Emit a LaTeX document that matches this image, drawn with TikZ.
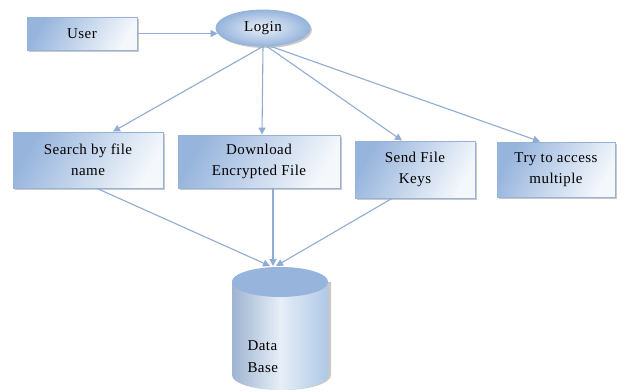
\documentclass[tikz,border=0pt]{standalone}
\usepackage{fontspec}
\setmainfont[LetterSpace=3]{Liberation Serif}
\usetikzlibrary{shadows,arrows.meta,calc,shapes.geometric}
\definecolor{bord}{RGB}{150,178,214}
\definecolor{boxblue}{RGB}{150,180,220}
\definecolor{linec}{RGB}{145,172,210}
\definecolor{dbtop}{RGB}{150,180,220}
\definecolor{dbbody}{RGB}{175,200,230}
\tikzset{
  box/.style={draw=bord, line width=0.9pt, rectangle, align=center,
    left color=boxblue, right color=white!90!boxblue, shading angle=60,
    drop shadow={shadow xshift=2pt, shadow yshift=-2pt, fill=black!35, opacity=0.6},
    font=\fontsize{15}{21}\selectfont, inner sep=0pt},
  conn/.style={draw=linec, line width=1.1pt, -{Triangle[length=7pt,width=7pt]}},
}
\begin{document}
\begin{tikzpicture}[x=1pt,y=-1pt]
\useasboundingbox (0,0) rectangle (626,391);
\fill[white] (0,0) rectangle (626,391);
% nodes
\node[box, minimum width=110pt, minimum height=33pt] (user) at (82,33.5) {User};
\node[ellipse, draw=bord, line width=0.9pt, inner color=white!80!boxblue, outer color=boxblue,
  drop shadow={shadow xshift=2pt, shadow yshift=-2pt, fill=black!35, opacity=0.6},
  minimum width=94pt, minimum height=36pt, inner sep=0pt, font=\fontsize{15}{19}\selectfont] (login) at (263,28) {Login};
\node[box, minimum width=150pt, minimum height=56pt] (search) at (88,160) {Search by file\\name};
\node[box, minimum width=162pt, minimum height=53pt] (download) at (259,161.5) {Download\\Encrypted File};
\node[box, minimum width=120pt, minimum height=57pt] (send) at (415,169.5) {Send File\\Keys};
\node[box, minimum width=118pt, minimum height=55pt] (try) at (556,169.5) {Try to access\\multiple};
% database cylinder
\fill[black!35, opacity=0.6] (235,282) -- (235,375) arc[x radius=48pt, y radius=15pt, start angle=180, end angle=360] -- (331,282) -- cycle;
\shade[left color=dbbody!90!black, right color=dbbody, middle color=white!70!dbbody]
  (232,282) -- (232,375) arc[x radius=48pt, y radius=15pt, start angle=180, end angle=360] -- (328,282)
  arc[x radius=48pt, y radius=15pt, start angle=0, end angle=180] -- cycle;
\fill[dbtop] (280,282) ellipse[x radius=48pt, y radius=15pt];
\node[coordinate] (db) at (273,266) {};
\node[anchor=west, font=\fontsize{15}{22}\selectfont, align=left] (dbtext) at (244,357) {Data\\Base};
% connectors
\draw[conn] (user.east) -- ([xshift=2pt]user.east -| login.west);
\draw[conn] (login.south) -- ([xshift=25pt]search.north);
\draw[conn] (login.south) -- ([xshift=3pt]download.north);
\draw[conn] ([xshift=4pt]login.south) -- ([xshift=-13pt]send.north);
\draw[conn] ([xshift=8pt]login.south) -- ([xshift=-16pt]try.north);
\draw[conn] ([xshift=9pt]search.south) -- ([xshift=-3pt]db);
\draw[conn] ([xshift=14pt]download.south) -- (db);
\draw[conn] ([xshift=-23pt]send.south) -- ([xshift=3pt]db);
\end{tikzpicture}
\end{document}
